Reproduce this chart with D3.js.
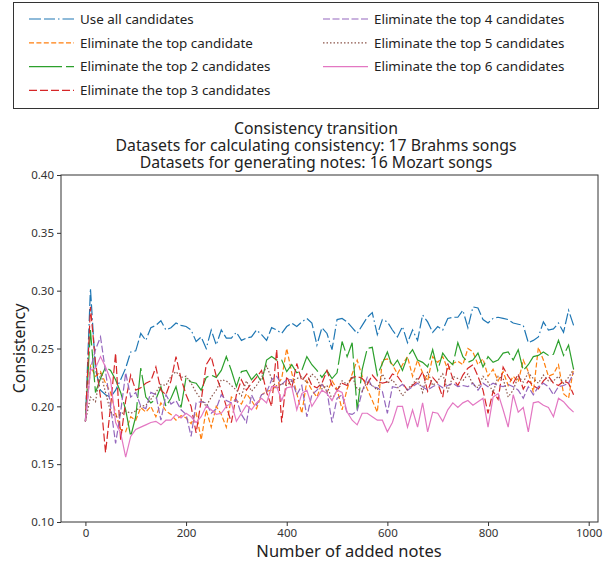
<!DOCTYPE html>
<html>
<head>
<meta charset="utf-8">
<script src="https://cdn.jsdelivr.net/npm/d3@7"></script>
<style>
  body { margin: 0; background: #fff; }
  svg { font-family: "Noto Sans", sans-serif; }
</style>
</head>
<body>
<div id="chart"></div>
<script>
const width = 604;
const height = 562;
const plot = { left: 61, right: 598, top: 175, bottom: 522 };

// x = number of added notes, one point every 10 notes
const addedNotes = d3.range(0, 971, 10);

const seriesNames = [
  "Use all candidates",
  "Eliminate the top candidate",
  "Eliminate the top 2 candidates",
  "Eliminate the top 3 candidates",
  "Eliminate the top 4 candidates",
  "Eliminate the top 5 candidates",
  "Eliminate the top 6 candidates",
];

const useAll = [
  .187,.302,.232,.214,.210,.208,.214,.223,.233,.247,
  .248,.263,.257,.268,.270,.274,.266,.268,.272,.270,
  .269,.266,.256,.260,.250,.266,.253,.266,.259,.259,
  .264,.257,.259,.260,.266,.262,.257,.268,.266,.263,
  .269,.272,.269,.273,.276,.272,.253,.268,.263,.249,
  .275,.276,.273,.268,.263,.270,.277,.281,.262,.275,
  .273,.266,.260,.269,.255,.266,.257,.279,.273,.264,
  .269,.266,.276,.277,.277,.283,.268,.286,.285,.275,
  .272,.276,.277,.276,.275,.272,.271,.270,.255,.257,
  .260,.273,.266,.267,.272,.264,.283,.270,
];
const elimTop1 = [
  .187,.235,.226,.230,.220,.212,.194,.180,.178,.191,
  .188,.199,.195,.200,.191,.203,.196,.193,.188,.192,
  .190,.185,.195,.171,.197,.182,.200,.193,.182,.208,
  .205,.202,.211,.205,.198,.210,.213,.214,.218,.224,
  .250,.229,.211,.194,.222,.214,.208,.220,.212,.222,
  .215,.197,.215,.228,.240,.226,.215,.205,.195,.240,
  .241,.236,.228,.236,.243,.226,.240,.229,.222,.243,
  .238,.243,.232,.237,.239,.236,.250,.247,.236,.241,
  .226,.232,.222,.230,.218,.226,.221,.240,.230,.212,
  .251,.240,.226,.228,.236,.211,.207,.233,
];
const elimTop2 = [
  .187,.266,.212,.224,.234,.231,.223,.212,.197,.174,
  .191,.233,.208,.203,.206,.217,.200,.207,.217,.199,
  .225,.221,.220,.214,.225,.227,.225,.231,.243,.231,
  .217,.230,.231,.223,.228,.221,.240,.243,.240,.240,
  .230,.236,.229,.231,.243,.236,.231,.225,.231,.224,
  .229,.256,.243,.255,.197,.232,.250,.251,.227,.237,
  .247,.234,.240,.231,.243,.249,.240,.238,.234,.249,
  .231,.246,.240,.236,.255,.243,.238,.240,.246,.234,
  .243,.238,.240,.246,.247,.240,.249,.231,.236,.243,
  .244,.247,.244,.245,.257,.244,.253,.232,
];
const elimTop3 = [
  .187,.286,.238,.208,.160,.200,.246,.171,.205,.227,
  .214,.216,.220,.222,.234,.214,.210,.222,.243,.224,
  .210,.200,.177,.205,.236,.243,.226,.214,.200,.186,
  .210,.223,.214,.220,.225,.231,.212,.200,.249,.186,
  .226,.216,.237,.222,.228,.218,.216,.220,.231,.218,
  .214,.220,.218,.225,.226,.224,.219,.227,.222,.220,
  .221,.228,.226,.220,.214,.218,.222,.230,.213,.225,
  .220,.208,.237,.224,.218,.227,.233,.236,.226,.214,
  .194,.213,.206,.234,.226,.220,.228,.215,.222,.218,
  .215,.222,.226,.220,.218,.222,.220,.210,
];
const elimTop4 = [
  .187,.232,.249,.260,.230,.200,.168,.195,.229,.208,
  .212,.200,.198,.212,.210,.188,.210,.202,.205,.197,
  .193,.174,.203,.204,.203,.194,.198,.210,.205,.203,
  .206,.193,.186,.210,.201,.210,.212,.223,.226,.219,
  .223,.223,.210,.218,.191,.210,.214,.219,.213,.186,
  .207,.210,.194,.193,.196,.213,.225,.217,.216,.213,
  .194,.217,.216,.219,.214,.217,.220,.217,.214,.217,
  .219,.216,.218,.220,.217,.218,.217,.220,.214,.220,
  .217,.220,.218,.217,.219,.217,.214,.207,.217,.210,
  .217,.220,.217,.210,.217,.218,.220,.229,
];
const elimTop5 = [
  .187,.208,.204,.229,.212,.195,.191,.193,.196,.194,
  .196,.200,.201,.206,.212,.219,.218,.226,.230,.225,
  .226,.220,.212,.206,.200,.208,.214,.223,.222,.218,
  .214,.209,.222,.213,.218,.225,.235,.224,.215,.220,
  .218,.222,.224,.226,.220,.228,.224,.215,.218,.206,
  .214,.222,.219,.226,.215,.213,.221,.218,.214,.228,
  .220,.223,.217,.209,.215,.219,.225,.212,.230,.218,
  .222,.228,.213,.226,.224,.222,.228,.219,.216,.226,
  .221,.212,.226,.224,.208,.214,.226,.221,.229,.224,
  .220,.227,.222,.222,.226,.220,.225,.232,
];
const elimTop6 = [
  .187,.231,.233,.243,.234,.223,.186,.177,.156,.174,
  .180,.182,.184,.186,.187,.184,.188,.188,.193,.190,
  .194,.191,.186,.191,.200,.197,.193,.194,.200,.203,
  .187,.194,.201,.197,.203,.207,.203,.217,.217,.205,
  .216,.217,.197,.211,.214,.200,.207,.214,.211,.205,
  .214,.212,.195,.188,.184,.194,.194,.191,.188,.188,
  .178,.186,.200,.200,.182,.197,.182,.203,.178,.195,
  .194,.187,.197,.203,.199,.203,.205,.201,.204,.207,
  .182,.208,.211,.197,.182,.210,.195,.199,.178,.203,
  .204,.201,.199,.191,.207,.204,.199,.195,
];

const xTicks = [0, 200, 400, 600, 800, 1000];
const yTicks = [0.10, 0.15, 0.20, 0.25, 0.30, 0.35, 0.40];
const titleLines = [
  "Consistency transition",
  "Datasets for calculating consistency: 17 Brahms songs",
  "Datasets for generating notes: 16 Mozart songs",
];

const allSeries = [useAll, elimTop1, elimTop2, elimTop3, elimTop4, elimTop5, elimTop6];
const colors = ["#1f77b4", "#ff7f0e", "#2ca02c", "#d62728", "#9467bd", "#8c564b", "#e377c2"];
const dashes = ["12,3,11,3,1.5,3", "5,2.4", "33,4", "8,3", "7,2.5", "1.5,2", null];

const svg = d3.select("#chart").append("svg")
  .attr("width", width)
  .attr("height", height);

const x = d3.scaleLinear().domain([-48.5, 1018.5]).range([plot.left, plot.right]);
const y = d3.scaleLinear().domain([0.1, 0.4]).range([plot.bottom, plot.top]);

const line = d3.line()
  .x((d, i) => x(addedNotes[i]))
  .y((d) => y(d));

svg.append("g")
  .selectAll("path")
  .data(allSeries)
  .join("path")
  .attr("fill", "none")
  .attr("stroke", (d, i) => colors[i])
  .attr("stroke-width", 1.2)
  .attr("stroke-dasharray", (d, i) => dashes[i])
  .attr("d", line);

// axes
const xAxis = svg.append("g")
  .attr("transform", `translate(0,${plot.bottom})`)
  .call(d3.axisBottom(x).tickValues(xTicks).tickFormat(d3.format("d")).tickSize(4).tickPadding(3));
const yAxis = svg.append("g")
  .attr("transform", `translate(${plot.left},0)`)
  .call(d3.axisLeft(y).tickValues(yTicks).tickFormat(d3.format(".2f")).tickSize(4).tickPadding(3));

[xAxis, yAxis].forEach((g) => {
  g.select(".domain").remove();
  g.selectAll("line").attr("stroke", "#333");
  g.selectAll("text").attr("fill", "#333").style("font-size", "11.5px").style("font-family", "Noto Sans");
});

// frame
svg.append("rect")
  .attr("x", plot.left)
  .attr("y", plot.top)
  .attr("width", plot.right - plot.left)
  .attr("height", plot.bottom - plot.top)
  .attr("fill", "none")
  .attr("stroke", "#333")
  .attr("stroke-width", 1);

// axis labels
svg.append("text")
  .attr("x", 349)
  .attr("y", 557)
  .attr("text-anchor", "middle")
  .attr("fill", "#222")
  .style("font-size", "16.5px")
  .text("Number of added notes");

svg.append("text")
  .attr("transform", `translate(25,${(plot.top + plot.bottom) / 2}) rotate(-90)`)
  .attr("text-anchor", "middle")
  .attr("fill", "#222")
  .style("font-size", "16px")
  .text("Consistency");

// title
svg.append("g")
  .selectAll("text")
  .data(titleLines)
  .join("text")
  .attr("x", 316)
  .attr("y", (d, i) => 134 + i * 17)
  .attr("text-anchor", "middle")
  .attr("fill", "#222")
  .style("font-size", "15.8px")
  .text((d) => d);

// legend
svg.append("rect")
  .attr("x", 13.5)
  .attr("y", 2.5)
  .attr("width", 585)
  .attr("height", 106)
  .attr("fill", "#fff")
  .attr("stroke", "#333")
  .attr("stroke-width", 1);

const legend = svg.append("g")
  .selectAll("g")
  .data(seriesNames)
  .join("g")
  .attr("transform", (d, i) => {
    const col = i < 4 ? 0 : 1;
    const row = i < 4 ? i : i - 4;
    return `translate(${col === 0 ? 29 : 323},${19 + row * 23.8})`;
  });

legend.append("line")
  .attr("x1", 0)
  .attr("x2", 45)
  .attr("stroke", (d, i) => colors[i])
  .attr("stroke-width", 1.2)
  .attr("stroke-dasharray", (d, i) => dashes[i]);

legend.append("text")
  .attr("x", 51)
  .attr("dy", "0.35em")
  .attr("fill", "#222")
  .style("font-size", "13.4px")
  .text((d) => d);
</script>
</body>
</html>
